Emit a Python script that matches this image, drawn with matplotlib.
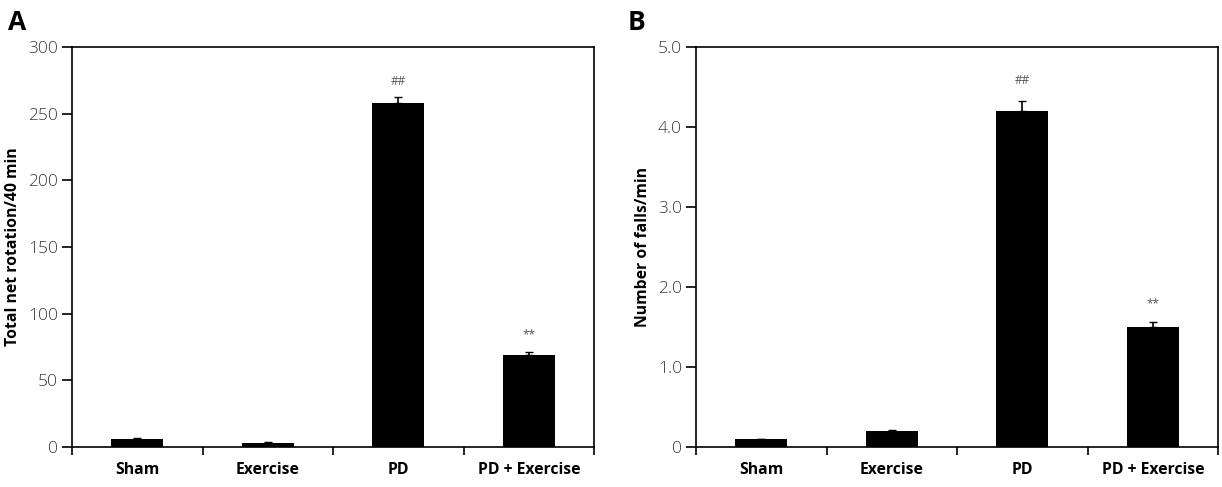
import matplotlib.pyplot as plt
import numpy as np

groups = ["Sham", "Exercise", "PD", "PD + Exercise"]

rotation_mean = [6, 3, 258, 69]
rotation_err = [0.5, 0.5, 4.5, 2]
rotation_marks = ["", "", "##", "**"]
rotation_mark_y = [0, 0, 274, 84]

falls_mean = [0.1, 0.2, 4.2, 1.5]
falls_err = [0.005, 0.01, 0.13, 0.06]
falls_marks = ["", "", "##", "**"]
falls_mark_y = [0, 0, 4.58, 1.79]

plt.rcParams['font.family'] = ['Open Sans', 'DejaVu Sans']

fig = plt.figure(figsize=(12.22, 4.87), dpi=100)
ax_a = fig.add_axes([72 / 1222, 1 - 447 / 487, 522 / 1222, 400 / 487])
ax_b = fig.add_axes([696 / 1222, 1 - 447 / 487, 522 / 1222, 400 / 487])


def draw_panel(ax, means, errs, marks, mark_y, ymax, yticks, ylabels, ylabel):
    x = np.arange(len(groups)) + 0.5
    ax.bar(x, means, width=0.4, color="black", zorder=2)
    ax.errorbar(x, means, yerr=[np.zeros(len(errs)), errs], fmt="none",
                ecolor="black", elinewidth=1.2, capsize=3, capthick=1.0, zorder=3)
    for xi, m, my in zip(x, marks, mark_y):
        if m:
            ax.text(xi, my, m, ha="center", va="center", fontsize=8.5, color="#555555")
    ax.set_xlim(0, len(groups))
    ax.set_ylim(0, ymax)
    ax.set_xticks(np.arange(len(groups) + 1))
    ax.set_xticklabels([])
    ax.set_xticks(x, minor=True)
    ax.set_xticklabels(groups, minor=True, fontsize=11.3, fontweight="bold")
    ax.tick_params(axis="x", which="minor", length=0, pad=11)
    ax.tick_params(axis="x", which="major", length=6, width=1.2)
    ax.set_yticks(yticks)
    ax.set_yticklabels(ylabels, fontsize=12.5, color="#3a3a3a", fontweight="light")
    ax.tick_params(axis="y", length=7, width=1.2, pad=3)
    ax.set_ylabel(ylabel, fontsize=11.3, fontweight="bold", labelpad=5)
    for s in ax.spines.values():
        s.set_linewidth(1.2)


draw_panel(ax_a, rotation_mean, rotation_err, rotation_marks, rotation_mark_y,
           300, [0, 50, 100, 150, 200, 250, 300],
           ["0", "50", "100", "150", "200", "250", "300"],
           "Total net rotation/40 min")
draw_panel(ax_b, falls_mean, falls_err, falls_marks, falls_mark_y,
           5.0, [0, 1, 2, 3, 4, 5],
           ["0", "1.0", "2.0", "3.0", "4.0", "5.0"],
           "Number of falls/min")

fig.text(8 / 1222, 1 - 22 / 487, "A", fontsize=19, fontweight="bold", va="center")
fig.text(628 / 1222, 1 - 22 / 487, "B", fontsize=19, fontweight="bold", va="center")

fig.savefig("out.png", dpi=100)
